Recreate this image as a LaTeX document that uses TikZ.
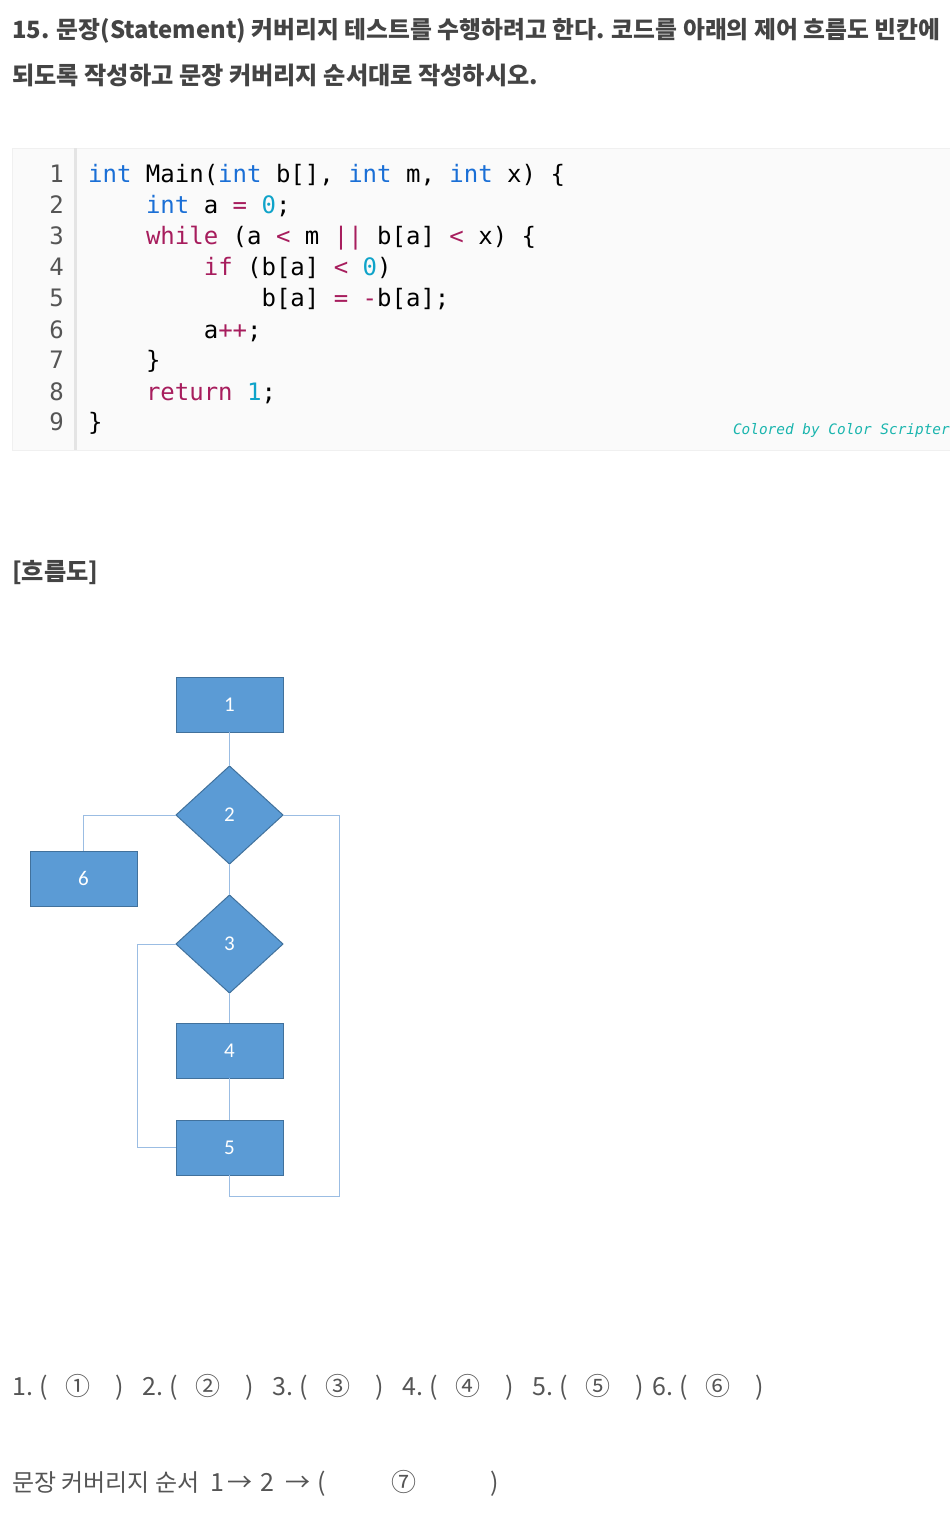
\documentclass[tikz,border=0pt]{standalone}
\usepackage{fontspec}
\usepackage{xcolor}
\usepackage{tikz}
\usetikzlibrary{positioning,shapes.geometric,calc}
\setmainfont{Noto Sans CJK KR}
\setmonofont{DejaVu Sans Mono}
\newfontfamily\boxfont{Carlito}
\definecolor{ink}{HTML}{444444}
\definecolor{softink}{HTML}{555555}
\definecolor{codebg}{HTML}{FAFAFA}
\definecolor{gutter}{HTML}{E4E4E4}
\definecolor{kwblue}{HTML}{1A6FD6}
\definecolor{kwred}{HTML}{A71D5D}
\definecolor{numcyan}{HTML}{0FA3C9}
\definecolor{scripter}{HTML}{1AB5AE}
\definecolor{boxfill}{HTML}{5B9BD5}
\definecolor{boxline}{HTML}{41719C}
\definecolor{flowline}{HTML}{9BBDE3}
\newcommand\kw[1]{\textcolor{kwblue}{#1}}
\newcommand\op[1]{\textcolor{kwred}{#1}}
\newcommand\nm[1]{\textcolor{numcyan}{#1}}
\begin{document}
\begin{tikzpicture}[x=1pt,y=1pt,
txt/.style={inner sep=0,anchor=base west},
head/.style={txt,text=ink,font=\fontsize{24.2}{28}\selectfont\bfseries},
code/.style={txt,font=\ttfamily\fontsize{24}{28}\selectfont,text=black},
lnum/.style={inner sep=0,anchor=base east,font=\ttfamily\fontsize{24}{28}\selectfont,text=softink},
ans/.style={inner sep=0,anchor=base,text=softink,font=\fontsize{25}{28}\selectfont},
stmt/.style={draw=boxline,fill=boxfill,line width=1pt,outer sep=0,minimum width=107pt,minimum height=55pt,text=white,font=\boxfont\fontsize{21}{21}\selectfont},
dec/.style={diamond,draw=boxline,fill=boxfill,line width=1pt,outer sep=0,minimum width=107pt,minimum height=98pt,inner sep=0,text=white,font=\boxfont\fontsize{21}{21}\selectfont},
flow/.style={draw=flowline,line width=1pt}]
\useasboundingbox (0,0) rectangle (950,-1518);
% question text
\node[head,font=\fontsize{23.8}{28}\selectfont\bfseries](title1) at (12,-38){15. 문장(Statement) 커버리지 테스트를 수행하려고 한다. 코드를 아래의 제어 흐름도 빈칸에};
\node[head](title2) at (12,-84){되도록 작성하고 문장 커버리지 순서대로 작성하시오.};
% code listing
\fill[codebg,draw=gray!12] (12,-148) rectangle (960,-450);
\draw[gutter,line width=3pt] (75,-148) -- (75,-450);
\node[lnum](l1) at (64,-182){1};
\node[lnum](l2) at (64,-213){2};
\node[lnum](l3) at (64,-244){3};
\node[lnum](l4) at (64,-275){4};
\node[lnum](l5) at (64,-306){5};
\node[lnum](l6) at (64,-338){6};
\node[lnum](l7) at (64,-368){7};
\node[lnum](l8) at (64,-400){8};
\node[lnum](l9) at (64,-430){9};
\node[code](c1) at (88,-182){\kw{int} Main(\kw{int} b[], \kw{int} m, \kw{int} x) \{};
\node[code](c2) at (145.8,-213){\kw{int} a \op{=} \nm{0};};
\node[code](c3) at (145.8,-244){\op{while} (a \op{<} m \op{||} b[a] \op{<} x) \{};
\node[code](c4) at (203.6,-275){\op{if} (b[a] \op{<} \nm{0})};
\node[code](c5) at (261.4,-306){b[a] \op{=} \op{-}b[a];};
\node[code](c6) at (203.6,-338){a\op{++};};
\node[code](c7) at (145.8,-368){\}};
\node[code](c8) at (145.8,-400){\op{return} \nm{1};};
\node[code](c9) at (88,-430){\}};
\node[inner sep=0,anchor=base east,text=scripter,font=\ttfamily\itshape\fontsize{14.4}{16}\selectfont](credit) at (950,-434){Colored by Color Scripter};
% flow chart
\node[head](fchead) at (12,-580){[흐름도]};
\node[stmt](n1) at (229.5,-704.5){1};
\node[dec,below=34pt of n1](d2){2};
\node[dec,below=31pt of d2](d3){3};
\node[stmt,below=30pt of d3](n4){4};
\node[stmt,below=42pt of n4](n5){5};
\node[stmt,left=39pt of d2,yshift=-63.5pt](n6){6};
\coordinate[below=21pt of n5.south,xshift=109.5pt](loopR);
\coordinate[left=39pt of n5.west](loopL);
\draw[flow](n1)--(d2);
\draw[flow](d2)--(d3);
\draw[flow](d3)--(n4);
\draw[flow](n4)--(n5);
\draw[flow](d2.west)-|(n6.north);
\draw[flow](d2.east)-|(loopR)-|(n5.south);
\draw[flow](d3.west)-|(loopL)--(n5.west);
% answer blanks
\foreach \n/\xa/\c in {1/12/①,2/142/②,3/272/③,4/402/④,5/532/⑤,6/652/⑥}{
  \node[ans,anchor=base west](q\n) at (\xa,-1395){\n.};
  \node[ans,anchor=base west](qo\n) at (\xa+27,-1395){(};
  \node[ans](qc\n) at (\xa+66,-1395){\c};
  \node[ans,anchor=base west](qe\n) at (\xa+103,-1395){)};
}
\node[ans,anchor=base west,font=\fontsize{24}{28}\selectfont](order) at (12,-1491){문장 커버리지 순서};
\node[ans,anchor=base west](o1) at (210,-1491){1};
\node[ans](a1) at (240,-1491){→};
\node[ans,anchor=base west](o2) at (260,-1491){2};
\node[ans](a2) at (298,-1491){→};
\node[ans,anchor=base west](oo) at (317,-1491){(};
\node[ans](oc) at (404,-1491){⑦};
\node[ans,anchor=base west](oe) at (490,-1491){)};
\end{tikzpicture}
\end{document}
